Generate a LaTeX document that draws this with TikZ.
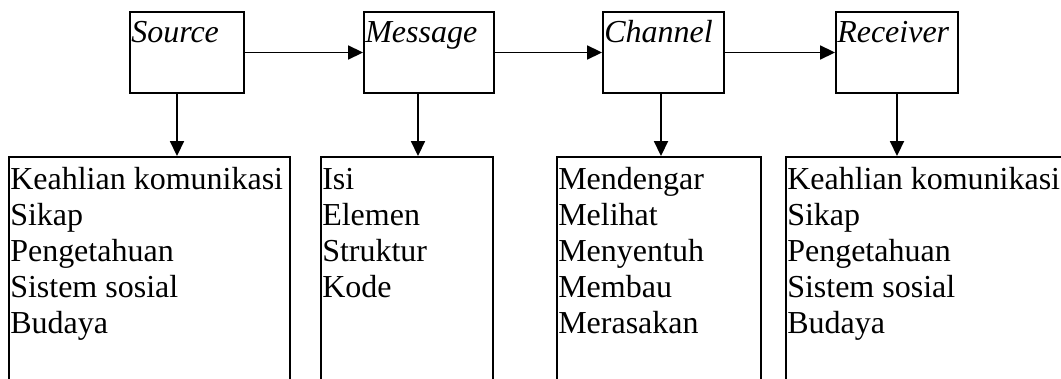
\documentclass[tikz,border=0pt]{standalone}
\usepackage{fontspec}
\setmainfont{Liberation Serif}
\usetikzlibrary{arrows.meta}
\tikzset{
  box/.style={draw, line width=1.9pt, inner sep=0pt},
  arr/.style={line width=1.8pt, -{Triangle[length=15pt,width=14pt]}},
  toptext/.style={anchor=base west, inner sep=0pt, font=\fontsize{32}{36}\selectfont\itshape},
  listtext/.style={anchor=base west, inner sep=0pt, font=\fontsize{32}{36}\selectfont},
}
\begin{document}
\begin{tikzpicture}[x=1pt,y=-1pt]
\useasboundingbox (0,0) rectangle (1061,379);
\clip (0,0) rectangle (1061,379);
% top boxes
\node[box, minimum width=114pt, minimum height=81pt] (src) at (187,52.5) {};
\node[box, minimum width=130pt, minimum height=81pt] (msg) at (429,52.5) {};
\node[box, minimum width=121pt, minimum height=81pt] (chn) at (663.5,52.5) {};
\node[box, minimum width=122pt, minimum height=81pt] (rcv) at (897,52.5) {};
\node[toptext] (tsrc) at ([xshift=2pt,yshift=-31pt]src.north west) {Source};
\node[toptext] (tmsg) at ([xshift=2pt,yshift=-31pt]msg.north west) {Message};
\node[toptext] (tchn) at ([xshift=2pt,yshift=-31pt]chn.north west) {Channel};
\node[toptext] (trcv) at ([xshift=2pt,yshift=-31pt]rcv.north west) {Receiver};
% lower boxes (open at the bottom of the picture)
\node[box, minimum width=281pt, minimum height=263pt] (lsrc) at (149.5,288.5) {};
\node[box, minimum width=172pt, minimum height=263pt] (lmsg) at (407,288.5) {};
\node[box, minimum width=204pt, minimum height=263pt] (lchn) at (659,288.5) {};
\node[box, minimum width=314pt, minimum height=263pt] (lrcv) at (943,288.5) {};
\node[listtext] (xsrc) at ([xshift=2pt,yshift=-33pt]lsrc.north west) {\parbox[t]{300pt}{\raggedright Keahlian komunikasi\\Sikap\\Pengetahuan\\Sistem sosial\\Budaya}};
\node[listtext] (xmsg) at ([xshift=2pt,yshift=-33pt]lmsg.north west) {\parbox[t]{200pt}{\raggedright Isi\\Elemen\\Struktur\\Kode}};
\node[listtext] (xchn) at ([xshift=2pt,yshift=-33pt]lchn.north west) {\parbox[t]{200pt}{\raggedright Mendengar\\Melihat\\Menyentuh\\Membau\\Merasakan}};
\node[listtext] (xrcv) at ([xshift=2pt,yshift=-33pt]lrcv.north west) {\parbox[t]{300pt}{\raggedright Keahlian komunikasi\\Sikap\\Pengetahuan\\Sistem sosial\\Budaya}};
% connectors
\draw[arr] (src.east) -- (msg.west);
\draw[arr] (msg.east) -- (chn.west);
\draw[arr] (chn.east) -- (rcv.west);
\draw[arr] ([xshift=-10pt]src.south) -- ([xshift=-10pt]src.south |- lsrc.north);
\draw[arr] ([xshift=-11pt]msg.south) -- ([xshift=-11pt]msg.south |- lmsg.north);
\draw[arr] ([xshift=-2.5pt]chn.south) -- ([xshift=-2.5pt]chn.south |- lchn.north);
\draw[arr] (rcv.south) -- (rcv.south |- lrcv.north);
\end{tikzpicture}
\end{document}
